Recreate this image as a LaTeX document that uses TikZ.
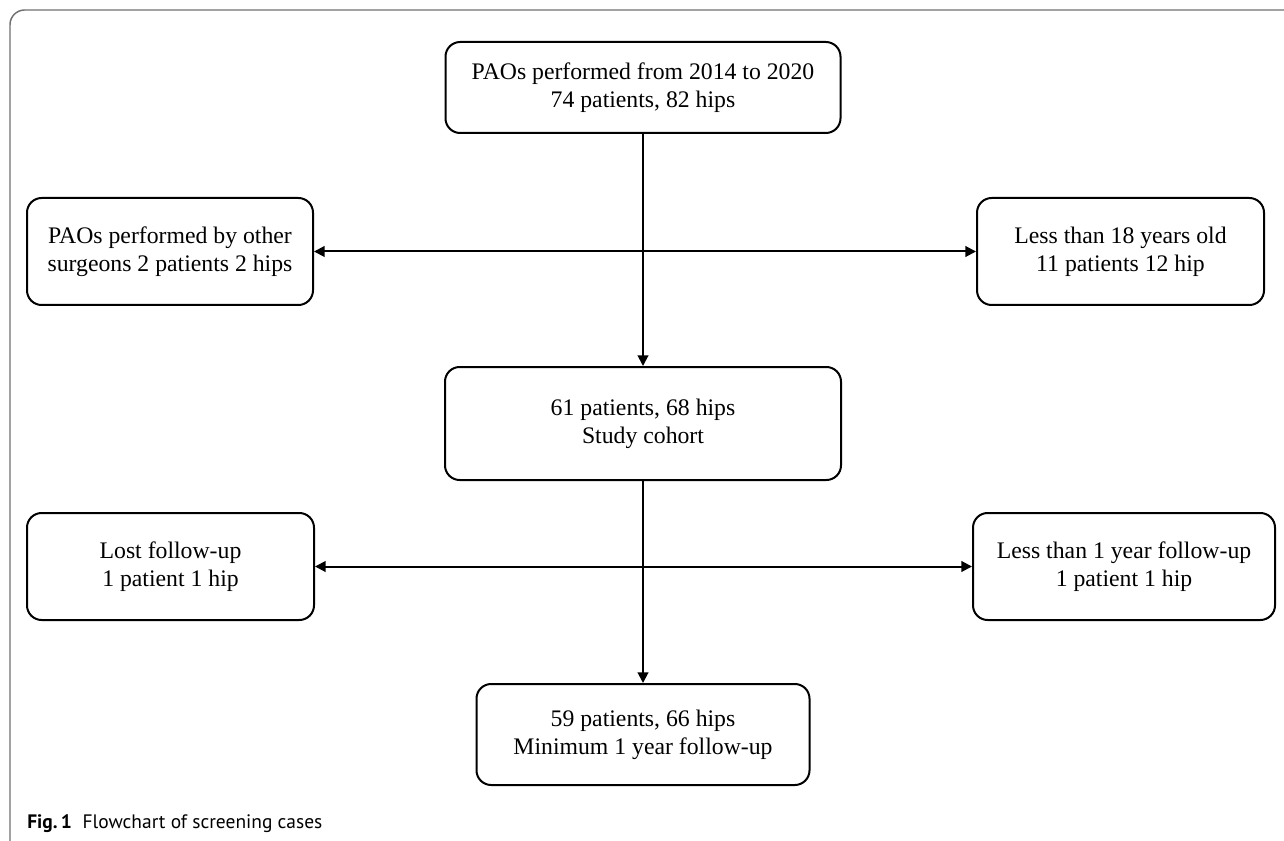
\documentclass[tikz,border=0pt]{standalone}
\usepackage{fontspec}
\setmainfont{Liberation Serif}
\newfontfamily\capfont{PT Sans}
\usetikzlibrary{arrows.meta}
\definecolor{framegray}{HTML}{707070}
\begin{document}
\begin{tikzpicture}[x=0.75pt,y=-0.75pt,
  box/.style={draw, line width=1.5pt, rounded corners=11pt, align=center,
    font=\fontsize{17.8}{21}\selectfont, inner sep=0pt},
  conn/.style={line width=1.5pt, -{Triangle[length=8pt,width=8pt]}},
  biconn/.style={line width=1.5pt, {Triangle[length=8pt,width=8pt]}-{Triangle[length=8pt,width=8pt]}},
  frame/.style={draw=framegray, line width=1.1pt, rounded corners=11pt},
  caption/.style={anchor=base west, font=\capfont\fontsize{14.6}{17}\selectfont, inner sep=0pt}
]
\useasboundingbox (0,0) rectangle (1284,841);
\draw[frame] (10,841) -- (10,10) -- (1284,10);

\node[box, minimum width=296.25pt, minimum height=68.25pt] (top) at (643,87.5)
  {PAOs performed from 2014 to 2020\\74 patients, 82 hips};
\node[box, minimum width=214.5pt, minimum height=80.25pt] (l1) at (170,251.5)
  {PAOs performed by other\\surgeons 2 patients 2 hips};
\node[box, minimum width=215.25pt, minimum height=80.25pt] (r1) at (1120.5,251.5)
  {Less than 18 years old\\11 patients 12 hip};
\node[box, minimum width=297pt, minimum height=84.75pt] (mid) at (643,423.5)
  {61 patients, 68 hips\\Study cohort};
\node[box, minimum width=215.25pt, minimum height=80.25pt] (l2) at (170.5,566.5)
  {Lost follow-up\\1 patient 1 hip};
\node[box, minimum width=226.5pt, minimum height=80.25pt] (r2) at (1124,566.5)
  {Less than 1 year follow-up\\1 patient 1 hip};
\node[box, minimum width=249.75pt, minimum height=75.75pt] (bot) at (643,734.5)
  {59 patients, 66 hips\\Minimum 1 year follow-up};

\draw[conn] (top.south) -- (mid.north);
\draw[conn] (mid.south) -- (bot.north);
\draw[biconn] (l1.east) -- (r1.west);
\draw[biconn] (l2.east) -- (r2.west);

\node[caption] (cap) at (27,828) {\textbf{Fig.\,1}\hspace{0.55em}Flowchart of screening cases};
\end{tikzpicture}
\end{document}
